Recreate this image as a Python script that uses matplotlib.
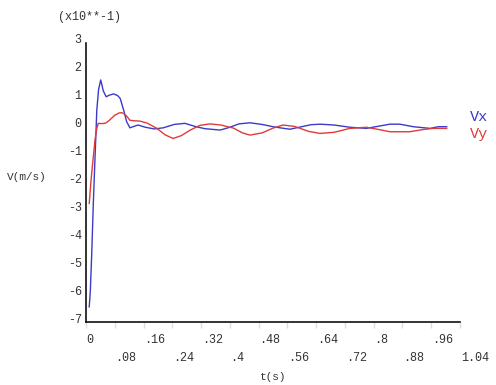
import matplotlib
matplotlib.use("Agg")
import matplotlib.pyplot as plt

# Data (velocity in units of 10**-1 m/s)
t_vx = [0.009, 0.012, 0.016, 0.020, 0.024, 0.027, 0.030, 0.035, 0.041, 0.048, 0.056,
        0.066, 0.077, 0.088, 0.095, 0.105, 0.113, 0.122, 0.133, 0.145, 0.165, 0.19,
        0.215, 0.245, 0.275, 0.303, 0.33, 0.373, 0.40, 0.425, 0.456, 0.49, 0.52,
        0.545, 0.567, 0.60, 0.625, 0.651, 0.69, 0.734, 0.78, 0.81, 0.845, 0.873,
        0.91, 0.957, 0.98, 1.003]
vx = [-6.56, -6.0, -4.64, -3.0, -1.6, -0.6, 0.46, 1.2, 1.54, 1.15, 0.94,
      1.0, 1.04, 0.98, 0.88, 0.45, 0.05, -0.17, -0.12, -0.07, -0.15, -0.21,
      -0.17, -0.05, -0.01, -0.12, -0.2, -0.25, -0.15, -0.03, 0.01, -0.05, -0.13,
      -0.18, -0.22, -0.13, -0.06, -0.04, -0.07, -0.15, -0.19, -0.12, -0.04, -0.04,
      -0.13, -0.19, -0.13, -0.13]

t_vy = [0.009, 0.013, 0.018, 0.022, 0.025, 0.030, 0.034, 0.045, 0.055, 0.065, 0.08,
        0.092, 0.099, 0.106, 0.113, 0.122, 0.135, 0.15, 0.17, 0.197, 0.22, 0.242,
        0.265, 0.29, 0.317, 0.345, 0.375, 0.41, 0.435, 0.456, 0.49, 0.52, 0.548,
        0.58, 0.62, 0.651, 0.69, 0.734, 0.78, 0.81, 0.845, 0.90, 0.938, 0.966, 1.003]
vy = [-2.87, -2.2, -1.5, -1.0, -0.6, -0.2, -0.01, -0.02, 0.0, 0.1, 0.28,
      0.36, 0.37, 0.33, 0.25, 0.1, 0.08, 0.07, 0.0, -0.19, -0.42, -0.55,
      -0.45, -0.25, -0.08, -0.03, -0.07, -0.18, -0.35, -0.43, -0.35, -0.18, -0.07,
      -0.12, -0.3, -0.37, -0.33, -0.19, -0.15, -0.22, -0.31, -0.31, -0.23, -0.19, -0.19]

y_ticks = [3, 2, 1, 0, -1, -2, -3, -4, -5, -6, -7]
x_ticks_row1 = [0, 0.16, 0.32, 0.48, 0.64, 0.8, 0.96]
x_labels_row1 = ["0", ".16", ".32", ".48", ".64", ".8", ".96"]
x_ticks_row2 = [0.08, 0.24, 0.4, 0.56, 0.72, 0.88, 1.04]
x_labels_row2 = [".08", ".24", ".4", ".56", ".72", ".88", "1.04"]

FONT = "Liberation Mono"
TXT = "#333333"
BLUE = "#3b3bc8"
RED = "#e03a3a"

W, H = 496, 385
fig = plt.figure(figsize=(W / 100, H / 100), dpi=100)
fig.patch.set_facecolor("white")
ax = fig.add_axes([86 / W, (H - 322) / H, (460 - 86) / W, 283 / H])
ax.set_xlim(0, 1.04)
ax.set_ylim(-7.1, 3.0)

ax.plot(t_vx, vx, color=BLUE, lw=1.0)
ax.plot(t_vy, vy, color=RED, lw=1.0)

for s in ["top", "right"]:
    ax.spines[s].set_visible(False)
ax.spines["left"].set_bounds(-7.1, 2.86)
for s in ["left", "bottom"]:
    ax.spines[s].set_linewidth(1.2)
    ax.spines[s].set_color("#111111")

ax.set_yticks([])
ax.set_xticks(sorted(x_ticks_row1 + x_ticks_row2))
ax.set_xticklabels([])
ax.tick_params(axis="x", length=4, color="#dddddd", width=1)

# y tick labels
for v in y_ticks:
    ax.text(-0.012, v - 0.04, str(v), transform=ax.transData, ha="right", va="center",
            fontsize=8.5, family=FONT, color=TXT, clip_on=False)

# x tick labels (two staggered rows, left-aligned at tick)
for v, lab in zip(x_ticks_row1, x_labels_row1):
    ax.text(v + 0.002, -0.065, lab, transform=ax.get_xaxis_transform(), ha="left",
            va="center", fontsize=8.5, family=FONT, color=TXT, clip_on=False)
for v, lab in zip(x_ticks_row2, x_labels_row2):
    ax.text(v + 0.002, -0.128, lab, transform=ax.get_xaxis_transform(), ha="left",
            va="center", fontsize=8.5, family=FONT, color=TXT, clip_on=False)

fig.text(273 / W, 1 - 377 / H, "t(s)", ha="center", va="center", fontsize=8,
         family=FONT, color=TXT)
fig.text(27 / W, 1 - 177 / H, "V(m/s)", ha="center", va="center", fontsize=8,
         family=FONT, color=TXT)
fig.text(89 / W, 1 - 17 / H, "(x10**-1)", ha="center", va="center", fontsize=8.5,
         family=FONT, color=TXT)

fig.text(479 / W, 1 - 117 / H, "Vx", ha="center", va="center", fontsize=11,
         family=FONT, color=BLUE)
fig.text(479 / W, 1 - 134 / H, "Vy", ha="center", va="center", fontsize=11,
         family=FONT, color=RED)

fig.savefig("out.png", dpi=100)
